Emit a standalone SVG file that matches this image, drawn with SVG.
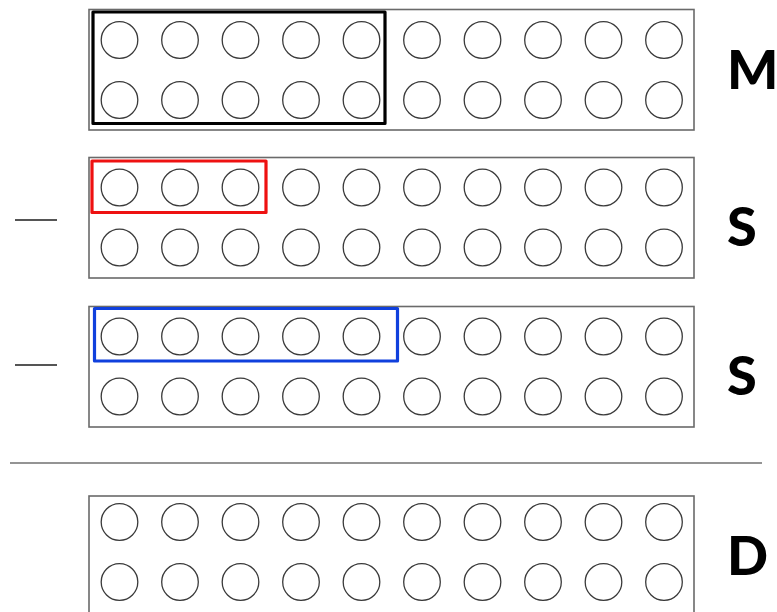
<svg xmlns="http://www.w3.org/2000/svg" xmlns:xlink="http://www.w3.org/1999/xlink" width="777" height="612" viewBox="0 0 777 612">
<style>
.panel{fill:#fff;stroke:#6a6a6a;stroke-width:1.6}
.dot{fill:none;stroke:#3a3a3a;stroke-width:1.3}
.lbl{font-family:Lato,"Liberation Sans",sans-serif;font-weight:900;font-size:54px;fill:#000}
.hl{fill:none;stroke-width:3.2;stroke-linejoin:round}
.rule{stroke:#707070;stroke-width:1.6}
.minus{stroke:#555;stroke-width:1.8}
</style>
<defs>
<g id="row">
<circle class="dot" cx="119.5" cy="0" r="18.3"/>
<circle class="dot" cx="180" cy="0" r="18.3"/>
<circle class="dot" cx="240.5" cy="0" r="18.3"/>
<circle class="dot" cx="301" cy="0" r="18.3"/>
<circle class="dot" cx="361.5" cy="0" r="18.3"/>
<circle class="dot" cx="422" cy="0" r="18.3"/>
<circle class="dot" cx="482.5" cy="0" r="18.3"/>
<circle class="dot" cx="543" cy="0" r="18.3"/>
<circle class="dot" cx="603.5" cy="0" r="18.3"/>
<circle class="dot" cx="664" cy="0" r="18.3"/>
</g>
</defs>
<rect width="777" height="612" fill="#fff"/>
<g id="panel-m">
<rect class="panel" x="89" y="9.5" width="605" height="120.5"/>
<use xlink:href="#row" y="40"/>
<use xlink:href="#row" y="100"/>
<rect class="hl" x="93" y="12" width="292" height="111.5" stroke="#000"/>
<text class="lbl" x="727" y="89">M</text>
</g>
<g id="panel-s1">
<rect class="panel" x="89" y="157.5" width="605" height="120.5"/>
<use xlink:href="#row" y="187.5"/>
<use xlink:href="#row" y="247.5"/>
<rect class="hl" x="92" y="161" width="174" height="51.5" stroke="#ee1111"/>
<text class="lbl" x="727" y="246">S</text>
</g>
<g id="panel-s2">
<rect class="panel" x="89" y="306.5" width="605" height="120.5"/>
<use xlink:href="#row" y="336.5"/>
<use xlink:href="#row" y="396.5"/>
<rect class="hl" x="94.5" y="308.5" width="303" height="52.5" stroke="#1040dd"/>
<text class="lbl" x="727" y="395">S</text>
</g>
<g id="panel-d">
<rect class="panel" x="89" y="496" width="605" height="121"/>
<use xlink:href="#row" y="522"/>
<use xlink:href="#row" y="582"/>
<text class="lbl" x="727" y="575">D</text>
</g>
<g id="connectors">
<line class="minus" x1="15" y1="220" x2="57" y2="220"/>
<line class="minus" x1="15" y1="365" x2="57" y2="365"/>
<line class="rule" x1="10" y1="463" x2="762" y2="463"/>
</g>
</svg>
